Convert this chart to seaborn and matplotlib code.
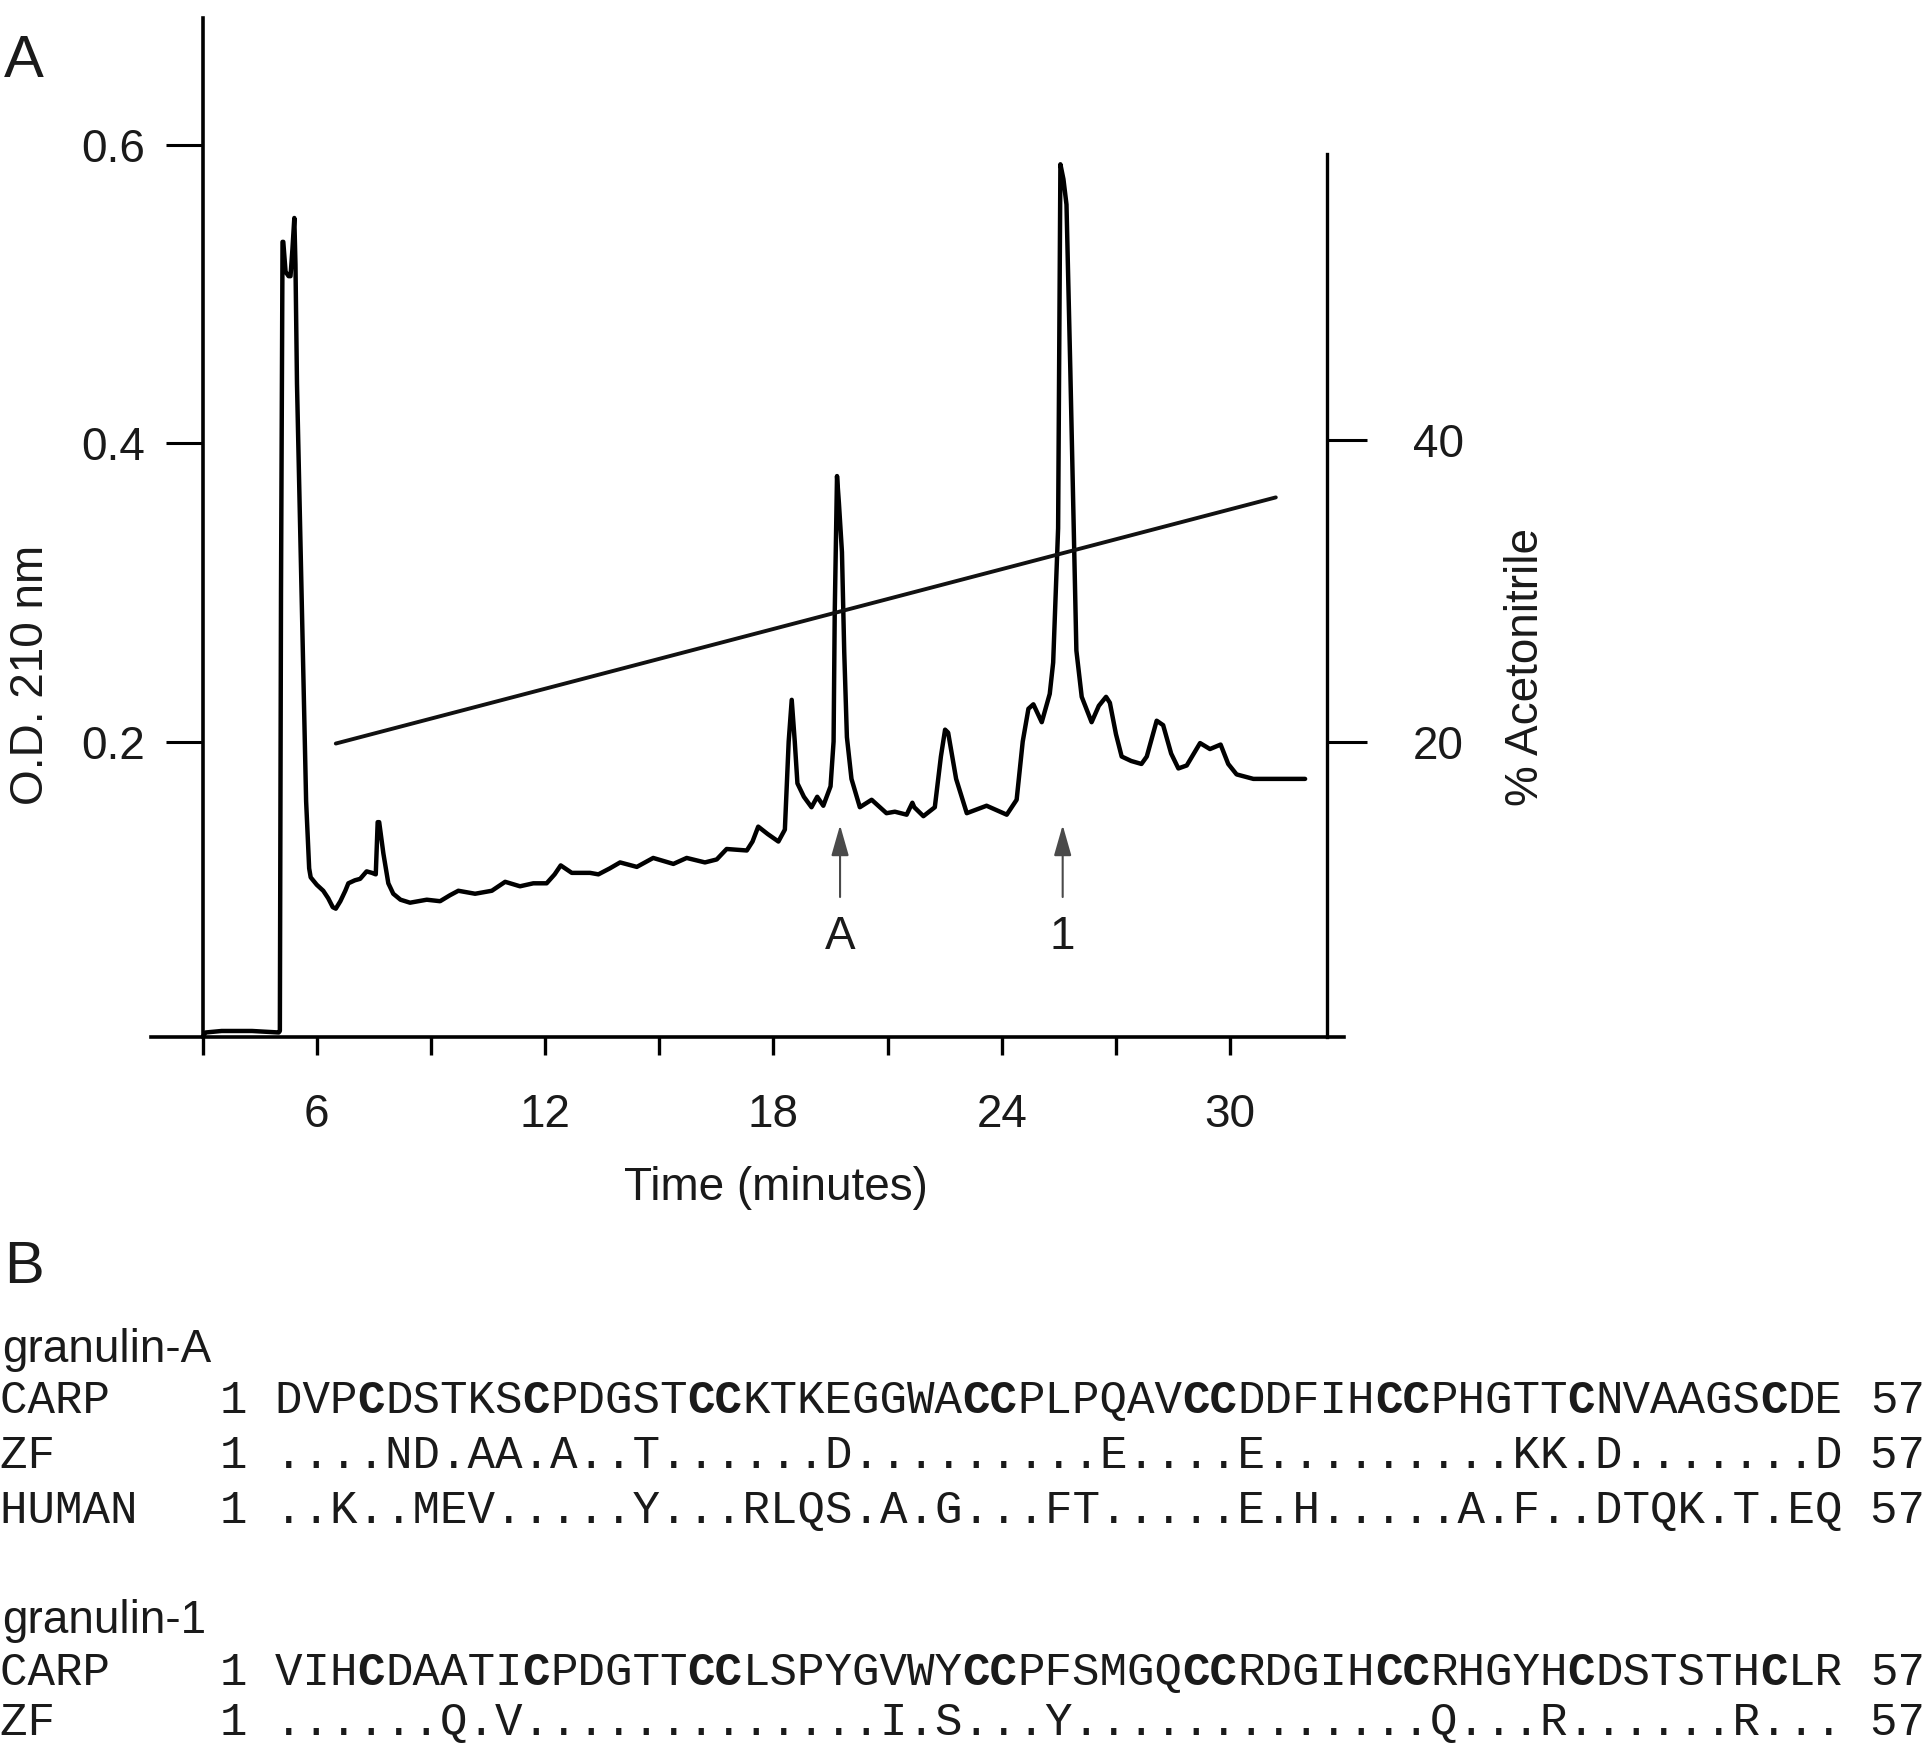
import matplotlib
matplotlib.use("Agg")
import matplotlib.pyplot as plt
import seaborn as sns
import numpy as np
import pandas as pd
import itertools

# ---------------- data ----------------
time_min = [3.00, 3.08, 3.5, 4.3, 5.00, 5.03, 5.06, 5.10, 5.12, 5.18, 5.26, 5.31, 5.36, 5.41,
            5.44, 5.48, 5.60, 5.72, 5.80, 5.84, 6.00, 6.17, 6.30, 6.42, 6.50, 6.62, 6.75, 6.83,
            7.00, 7.14, 7.31, 7.45, 7.55, 7.60, 7.64, 7.75, 7.88, 8.01, 8.20, 8.45, 8.89, 9.24,
            9.50, 9.72, 10.16, 10.60, 10.95, 11.34, 11.69, 12.04, 12.25, 12.41, 12.70, 13.18,
            13.40, 13.70, 13.97, 14.41, 14.84, 15.37, 15.72, 16.20, 16.51, 16.77, 17.30, 17.45,
            17.60, 17.85, 18.13, 18.30, 18.40, 18.48, 18.56, 18.63, 18.80, 19.00, 19.15, 19.31,
            19.50, 19.58, 19.61, 19.67, 19.72, 19.80, 19.86, 19.93, 20.05, 20.27, 20.58, 20.97,
            21.19, 21.50, 21.65, 21.70, 21.94, 22.24, 22.40, 22.51, 22.59, 22.80, 23.08, 23.60,
            24.13, 24.39, 24.55, 24.70, 24.83, 25.05, 25.26, 25.35, 25.48, 25.54, 25.62, 25.70,
            25.80, 25.96, 26.10, 26.36, 26.55, 26.74, 26.84, 27.00, 27.15, 27.40, 27.67, 27.81,
            28.07, 28.24, 28.45, 28.64, 28.86, 29.21, 29.47, 29.75, 29.95, 30.17, 30.61, 31.97]
od210 = [0.002, 0.005, 0.006, 0.006, 0.005, 0.006, 0.300, 0.535, 0.535, 0.515, 0.512, 0.512, 0.530, 0.551,
         0.520, 0.440, 0.300, 0.160, 0.115, 0.109, 0.104, 0.100, 0.095, 0.089, 0.088, 0.093, 0.100, 0.105,
         0.107, 0.108, 0.113, 0.112, 0.111, 0.146, 0.146, 0.125, 0.105, 0.098, 0.094, 0.092, 0.094, 0.093,
         0.097, 0.100, 0.098, 0.100, 0.106, 0.103, 0.105, 0.105, 0.111, 0.117, 0.112, 0.112,
         0.111, 0.115, 0.119, 0.116, 0.122, 0.118, 0.122, 0.119, 0.121, 0.128, 0.127, 0.133,
         0.143, 0.138, 0.133, 0.141, 0.200, 0.228, 0.200, 0.172, 0.163, 0.156, 0.163, 0.157,
         0.170, 0.200, 0.286, 0.378, 0.360, 0.327, 0.260, 0.203, 0.175, 0.156, 0.161, 0.152,
         0.153, 0.151, 0.159, 0.156, 0.150, 0.156, 0.190, 0.208, 0.206, 0.175, 0.152, 0.157,
         0.151, 0.161, 0.200, 0.222, 0.225, 0.213, 0.232, 0.253, 0.343, 0.587, 0.577, 0.560,
         0.450, 0.261, 0.230, 0.213, 0.224, 0.230, 0.226, 0.205, 0.190, 0.187, 0.185, 0.190,
         0.214, 0.211, 0.192, 0.182, 0.184, 0.199, 0.195, 0.198, 0.185, 0.178, 0.175, 0.175]

grad_time = [6.5, 31.2]
grad_pct = [19.9, 36.2]

peak_labels = ["A", "1"]
peak_times = [19.75, 25.6]

x_ticks = [3, 6, 9, 12, 15, 18, 21, 24, 27, 30]
x_tick_labels = ["", "6", "", "12", "", "18", "", "24", "", "30"]
od_ticks = [0.2, 0.4, 0.6]
od_tick_labels = ["0.2", "0.4", "0.6"]
pct_ticks = [20, 40]
pct_tick_labels = ["20", "40"]

group_titles = ["granulin-A", "granulin-1"]
grnA_names = ["CARP", "ZF", "HUMAN"]
grnA_seqs = ["DVPCDSTKSCPDGSTCCKTKEGGWACCPLPQAVCCDDFIHCCPHGTTCNVAAGSCDE",
             "....ND.AA.A..T......D.........E....E.........KK.D.......D",
             "..K..MEV.....Y...RLQS.A.G...FT.....E.H.....A.F..DTQK.T.EQ"]
grn1_names = ["CARP", "ZF"]
grn1_seqs = ["VIHCDAATICPDGTTCCLSPYGVWYCCPFSMGQCCRDGIHCCRHGYHCDSTSTHCLR",
             "......Q.V.............I.S...Y.............Q...R......R..."]

# ---------------- style ----------------
sns.set_theme(style="white")
plt.rcParams["font.family"] = ["Liberation Sans", "DejaVu Sans"]
plt.rcParams["text.color"] = "#1a1a1a"
plt.rcParams["axes.labelcolor"] = "#1a1a1a"
plt.rcParams["xtick.color"] = "#1a1a1a"
plt.rcParams["ytick.color"] = "#1a1a1a"

W, H = 1925, 1755
fig = plt.figure(figsize=(W / 100, H / 100), dpi=100)
fig.patch.set_facecolor("white")

FS = 33
ax = fig.add_axes([151 / W, 1 - 1037.4 / H, (1344.3 - 151) / W, (1037.4 - 18.1) / H])
ax.set_facecolor("none")
ax.set_xlim(1.644, 33.0)
ax.set_ylim(0.0017, 0.685)

sns.lineplot(x=time_min, y=od210, ax=ax, color="black", linewidth=3.2,
             sort=False, estimator=None)
for ln in ax.get_lines():
    ln.set_solid_joinstyle("round")
    ln.set_solid_capstyle("round")

for s in ["top", "right"]:
    ax.spines[s].set_visible(False)
ax.spines["left"].set_position(("data", 3))
ax.spines["left"].set_bounds(0.0017, 0.685)
for s in ["left", "bottom"]:
    ax.spines[s].set_color("black")
    ax.spines[s].set_linewidth(2.6)

ax.set_xticks(x_ticks, x_tick_labels)
ax.set_yticks(od_ticks, od_tick_labels)
ax.tick_params(axis="x", direction="out", length=13, width=2.4, pad=27,
               labelsize=FS, bottom=True, color="black")
ax.tick_params(axis="y", direction="out", length=26.6, width=2.2, pad=14.8,
               labelsize=FS, left=True, color="black")

ax.set_xlabel("Time (minutes)", fontsize=FS)
ax.xaxis.label.set_va("center")
ax.xaxis.set_label_coords(0.5237, -0.1477)
ax.set_ylabel("O.D. 210 nm", fontsize=FS)
ax.yaxis.label.set_va("center")
ax.yaxis.set_label_coords(-0.1006, 0.3555)

# right axis: % acetonitrile
ax2 = ax.twinx()
ax2.set_ylim(0.44, 67.94)
sns.lineplot(x=grad_time, y=grad_pct, ax=ax2, color="#111111", linewidth=2.8,
             sort=False, estimator=None)
for s in ["top", "left", "bottom"]:
    ax2.spines[s].set_visible(False)
ax2.spines["right"].set_position(("data", 32.54))
ax2.spines["right"].set_bounds(0.44, 58.97)
ax2.spines["right"].set_color("black")
ax2.spines["right"].set_linewidth(2.4)
ax2.set_yticks(pct_ticks, pct_tick_labels)
ax2.tick_params(axis="y", direction="out", length=28.8, width=2.2, pad=33,
                labelsize=FS, right=True, color="black")
ax2.set_ylabel("% Acetonitrile", fontsize=FS, rotation=90)
ax2.yaxis.label.set_va("center")
ax2.yaxis.set_label_coords(1.1523, 0.3634)

# arrows marking peaks
for lab, t in zip(peak_labels, peak_times):
    ax.annotate("", xy=(t, 0.144), xytext=(t, 0.0958),
                arrowprops=dict(arrowstyle="-|>,head_length=0.7,head_width=0.2",
                                color="#4a4a4a", lw=1.5, mutation_scale=27,
                                shrinkA=0, shrinkB=0))
    ax.text(t, 0.069, lab, ha="center", va="center", fontsize=FS)

# panel letters
fig.text(4 / W, 1 - 77 / H, "A", fontsize=43, ha="left", va="baseline")
fig.text(4 / W, 1 - 1283 / H, "B", fontsize=43, ha="left", va="baseline")

# ---------------- panel B: alignments ----------------
CH = 27.5  # px per monospace character
MONO = ["Liberation Mono", "DejaVu Sans Mono"]


def seq_row(y_base, name, seq, bold_c):
    prefix = f"{name:<8}1 "
    yb = 1 - y_base / H
    if not bold_c:
        fig.text(0, yb, prefix + seq + " 57", family=MONO, fontsize=FS,
                 ha="left", va="baseline")
        return
    # split into runs so that the cysteines are drawn bold, side by side
    runs = [(k, "".join(g)) for k, g in itertools.groupby(seq, key=lambda c: c == "C")]
    pos = len(prefix)
    first = True
    for is_c, txt in runs:
        if first and not is_c:
            fig.text(0, yb, prefix + txt, family=MONO, fontsize=FS, ha="left", va="baseline")
        else:
            if first:
                fig.text(0, yb, prefix.rstrip(), family=MONO, fontsize=FS,
                         ha="left", va="baseline")
            fig.text(pos * CH / W, yb, txt, family=MONO, fontsize=FS,
                     fontweight="bold" if is_c else "normal", ha="left", va="baseline")
        first = False
        pos += len(txt)
    fig.text((pos + 1) * CH / W, yb, "57", family=MONO, fontsize=FS,
             ha="left", va="baseline")


fig.text(2 / W, 1 - 1362 / H, group_titles[0], fontsize=FS, ha="left", va="baseline")
for yb, nm, sq in zip([1413, 1468, 1523], grnA_names, grnA_seqs):
    seq_row(yb, nm, sq, nm == "CARP")

fig.text(2 / W, 1 - 1633 / H, group_titles[1], fontsize=FS, ha="left", va="baseline")
for yb, nm, sq in zip([1685, 1735], grn1_names, grn1_seqs):
    seq_row(yb, nm, sq, nm == "CARP")

fig.savefig("out.png", dpi=100, facecolor="white")
